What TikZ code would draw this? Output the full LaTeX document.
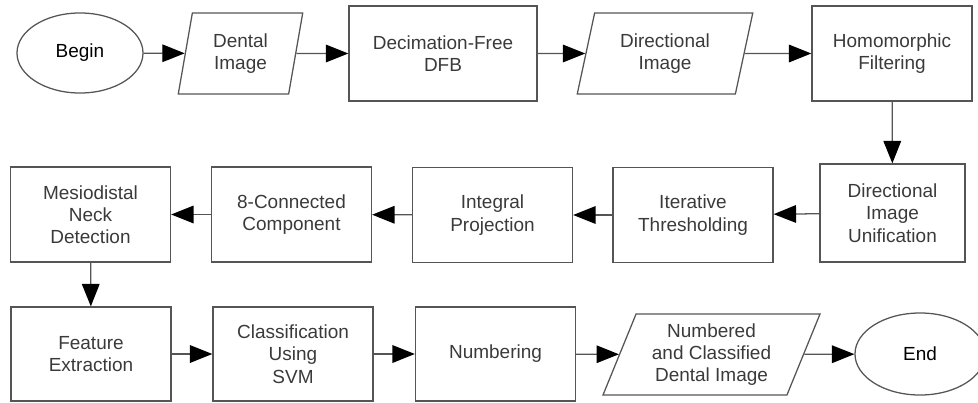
\documentclass[tikz,border=0pt]{standalone}
\usepackage{fontspec}
\setmainfont{Liberation Sans}
\usetikzlibrary{shapes.geometric,arrows.meta}
\definecolor{linegray}{HTML}{555555}
\definecolor{textgray}{HTML}{3A3A3A}

\begin{document}
\begin{tikzpicture}[x=0.025cm, y=-0.025cm,
        box/.style={draw=linegray, line width=0.9pt, align=center, text=textgray,
          font=\fontsize{13.5}{15.8}\selectfont, inner sep=2pt},
        proc/.style={box, rectangle, minimum width=4cm, minimum height=2.375cm},
        data/.style={box, trapezium, trapezium stretches=true, minimum height=2.025cm},
        term/.style={box, ellipse, text=black},
        flow/.style={draw=linegray, line width=0.9pt, -{Triangle[length=0.56cm, width=0.44cm, color=black]}}]
        \useasboundingbox (0,0) rectangle (978,402);

        % first row
        \node[term, minimum width=3.15cm, minimum height=2cm] (begin) at (80,53) {Begin};
        \node[data, minimum width=3.125cm, trapezium left angle=79, trapezium right angle=101] (dental) at (240.5,53.5) {Dental\\Image};
        \node[proc, minimum width=4.7cm] (dfb) at (443,53.5) {Decimation-Free\\DFB};
        \node[data, minimum width=4.4cm, trapezium left angle=75.5, trapezium right angle=104.5] (dirimg) at (665,53.5) {Directional\\Image};
        \node[proc] (homo) at (892,53.5) {Homomorphic\\Filtering};

        % second row
        \node[proc, minimum width=3.625cm, minimum height=2.45cm] (unif) at (892.5,213) {Directional\\Image\\Unification};
        \node[proc] (iter) at (693,215) {Iterative\\Thresholding};
        \node[proc] (integ) at (492.5,215) {Integral\\Projection};
        \node[proc] (conn) at (291.5,214.5) {8-Connected\\Component};
        \node[proc] (mesio) at (90.5,214.5) {Mesiodistal\\Neck\\Detection};

        % third row
        \node[proc, minimum height=2.35cm] (feat) at (91,354) {Feature\\Extraction};
        \node[proc, minimum height=2.35cm] (svm) at (293,354) {Classification\\Using\\SVM};
        \node[proc, minimum height=2.35cm] (numb) at (495.5,354) {Numbering};
        \node[data, minimum width=5.425cm, trapezium left angle=68, trapezium right angle=112] (numimg) at (711.5,354.5) {Numbered\\and Classified\\Dental Image};
        \node[term, minimum width=3.25cm, minimum height=2.05cm] (end) at (920,354) {End};

        \draw[flow] (begin) -- (dental);
        \draw[flow] (dental) -- (dfb);
        \draw[flow] (dfb) -- (dirimg);
        \draw[flow] (dirimg) -- (homo);
        \draw[flow] (homo) -- (unif);
        \draw[flow] (unif) -- (iter);
        \draw[flow] (iter) -- (integ);
        \draw[flow] (integ) -- (conn);
        \draw[flow] (conn) -- (mesio);
        \draw[flow] (mesio) -- (feat);
        \draw[flow] (feat) -- (svm);
        \draw[flow] (svm) -- (numb);
        \draw[flow] (numb) -- (numimg);
        \draw[flow] (numimg) -- (end);
      \end{tikzpicture}
\end{document}
